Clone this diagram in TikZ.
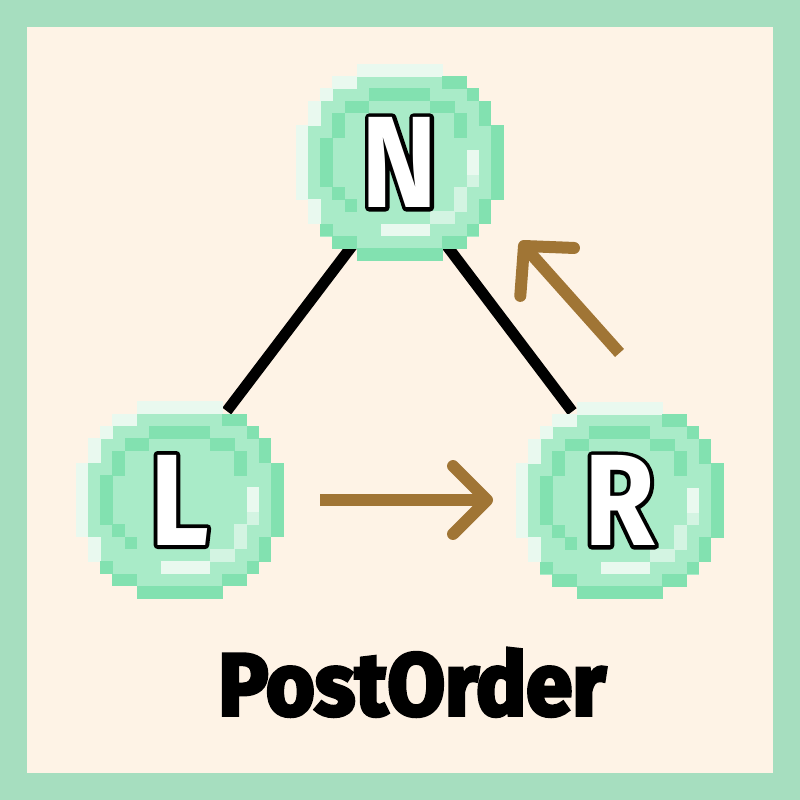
\documentclass[tikz,border=0pt]{standalone}
\usepackage{fontspec}
\usetikzlibrary{calc}
\newfontfamily\letterfontB{Fira Sans}[FakeStretch=0.88,FakeBold=6]
\newfontfamily\letterfontW{Fira Sans}[FakeStretch=0.88]
\newfontfamily\titlefont{Fira Sans}[FakeStretch=0.95,FakeBold=4]
\definecolor{frameG}{HTML}{A6DEBF}
\definecolor{creamBg}{HTML}{FEF3E6}
\definecolor{cM}{HTML}{A9EBC8}
\definecolor{cD}{HTML}{82E1B0}
\definecolor{cW}{HTML}{E9F9EF}
\definecolor{cH}{HTML}{D3F4E2}
\definecolor{arrowBrown}{HTML}{A07535}
\pgfdeclarelayer{bg}
\pgfdeclarelayer{lines}
\pgfdeclarelayer{coins}
\pgfsetlayers{bg,lines,coins,main}
\newcommand\outlinedletter[1]{\special{pdf:literal direct 1 j}\rlap{\color{black}\letterfontB #1}{\letterfontW #1}}
\tikzset{
  coinpic/.pic={
    \foreach \r/\a/\b in {0/5/11,1/3/13,2/2/14,3/1/15,4/1/15,5/0/16,6/0/16,7/0/16,8/0/16,9/0/16,10/0/16,11/1/15,12/1/15,13/2/14,14/3/13,15/5/11}
      \fill[cM] ({\a*12.2},{\r*12.3}) rectangle ({(\b+1)*12.2},{(\r+1)*12.3+0.4});
    \foreach \r/\a/\b/\c in {0/5/11/cW,
        1/3/4/cW,1/12/13/cD,
        2/2/2/cW,2/6/10/cD,2/14/14/cD,
        3/1/1/cW,3/4/5/cD,3/11/12/cD,3/15/15/cD,
        4/1/1/cW,4/3/3/cD,4/13/13/cD,4/15/15/cD,
        5/0/0/cW,5/3/3/cD,5/13/13/cD,5/16/16/cD,
        6/0/0/cW,6/2/2/cD,6/16/16/cD,
        7/0/0/cW,7/2/2/cD,7/14/14/cW,7/16/16/cD,
        8/0/0/cW,8/2/2/cD,8/14/14/cW,8/16/16/cD,
        9/0/0/cW,9/2/2/cD,9/14/14/cH,9/16/16/cD,
        10/0/0/cW,10/3/3/cD,10/13/13/cH,10/16/16/cD,
        11/1/1/cW,11/4/4/cD,11/13/13/cH,11/15/15/cD,
        12/1/1/cW,12/11/12/cH,12/15/15/cD,
        13/2/2/cD,13/7/10/cW,13/14/14/cD,
        14/3/4/cD,14/12/13/cD,
        15/5/11/cD}
      \fill[\c] ({\a*12.2-0.2},{\r*12.3-0.2}) rectangle ({(\b+1)*12.2+0.2},{(\r+1)*12.3+0.2});
  },
  lettertext/.style={circle, minimum size=2cm, inner sep=0pt, text=white,
    font={\letterfontW\bfseries\fontsize{37pt}{37pt}\selectfont}},
  titletext/.style={inner sep=0pt, text=black,
    font={\titlefont\bfseries\fontsize{25pt}{25pt}\selectfont}},
  edgeline/.style={line width=0.11cm, black, line cap=butt},
  brownshaft/.style={line width=0.12cm, arrowBrown, line cap=butt},
  brownhead/.style={line width=0.12cm, arrowBrown, line cap=round, line join=round},
}
\begin{document}
\begin{tikzpicture}[x=0.01cm, y=-0.01cm]
  \useasboundingbox (0,0) rectangle (800,800);
  \begin{pgfonlayer}{bg}
    \fill[frameG] (0,0) rectangle (800,800);
    \fill[creamBg] (27,27) rectangle (773,773);
  \end{pgfonlayer}

  \node[lettertext] (N) at (399.5,162.5) {\outlinedletter{N}};
  \node[lettertext] (L) at (179.5,500) {\outlinedletter{L}};
  \node[lettertext] (R) at (619.5,500.5) {\outlinedletter{R}};

  \begin{pgfonlayer}{coins}
    \pic at ($(N.center)+(-103.5,-98.5)$) {coinpic};
    \pic at ($(L.center)+(-103.5,-98.5)$) {coinpic};
    \pic at ($(R.center)+(-103.5,-98.5)$) {coinpic};
  \end{pgfonlayer}

  \begin{pgfonlayer}{lines}
    \draw[edgeline, shorten <=-0.2cm] (N.240) -- (L.62);
    \draw[edgeline, shorten <=-0.2cm] (N.300) -- (R.118);
  \end{pgfonlayer}

  \coordinate (lrTail) at (320,500);
  \coordinate (lrTip) at (487,500);
  \draw[brownshaft] (lrTail) -- (lrTip);
  \draw[brownhead] ($(lrTip)!0.48cm!45:(lrTail)$) -- (lrTip) -- ($(lrTip)!0.48cm!-45:(lrTail)$);

  \coordinate (rnTail) at (619.5,353);
  \coordinate (rnTip) at (524,246);
  \draw[brownshaft] (rnTail) -- (rnTip);
  \draw[brownhead] ($(rnTip)!0.5cm!46:(rnTail)$) -- (rnTip) -- ($(rnTip)!0.5cm!-46:(rnTail)$);

  \node[titletext, anchor=base] (title) at (412,715) {PostOrder};
\end{tikzpicture}
\end{document}
